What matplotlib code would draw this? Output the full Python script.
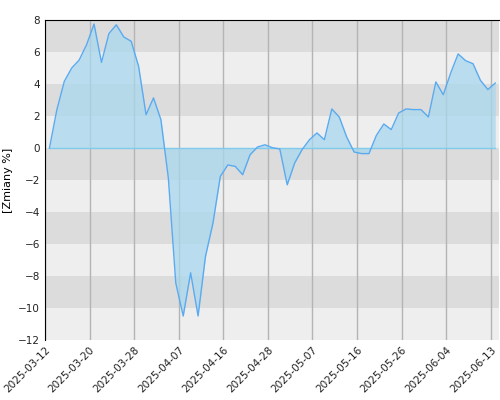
import matplotlib
matplotlib.use('Agg')
import matplotlib.pyplot as plt
import numpy as np

values = [0, 2.4, 4.17, 5.0, 5.5, 6.46, 7.75, 5.35, 7.15, 7.7, 6.94, 6.67, 5.1, 2.08,
          3.13, 1.77, -1.875, -8.44, -10.5, -7.8, -10.5, -6.77, -4.7, -1.77, -1.06,
          -1.15, -1.67, -0.42, 0.06, 0.2, 0.02,
          -0.06, -2.3, -0.94, -0.1, 0.52, 0.94, 0.52, 2.44, 1.94, 0.69, -0.25, -0.35,
          -0.35, 0.79, 1.5, 1.15, 2.19, 2.44, 2.4, 2.4, 1.94, 4.13, 3.33, 4.69, 5.88,
          5.46, 5.27, 4.23, 3.65, 4.06]
tick_labels = ['2025-03-12', '2025-03-20', '2025-03-28', '2025-04-07', '2025-04-16',
               '2025-04-28', '2025-05-07', '2025-05-16', '2025-05-26', '2025-06-04',
               '2025-06-13']

x = np.arange(len(values))
y = np.array(values)

fig = plt.figure(figsize=(5, 4), dpi=100)
ax = fig.add_axes([0.09, 0.15, 0.908, 0.80])

# alternating bands
for i, lo in enumerate(range(-12, 8, 2)):
    c = '#dcdcdc' if (lo // 2) % 2 == 1 else '#eeeeee'
    ax.axhspan(lo, lo + 2, color=c, zorder=0, lw=0)

ticks = np.arange(len(tick_labels)) * 6 - 0.6
for t in ticks:
    ax.axvline(t, color='#b4b4b4', lw=1, zorder=1)

ax.fill_between(x, y, 0, color='#a8d8ee', alpha=0.75, zorder=2, lw=0)
ax.axhline(0, xmin=(0 + 0.58) / 61.1, xmax=(60 + 0.58) / 61.1, color='#80cbea', lw=1, zorder=2)
ax.plot(x, y, color='#5aaaf0', lw=1, zorder=3)

ax.set_xlim(-0.58, 60.5)
ax.set_ylim(-12, 8)
ax.set_yticks(range(-12, 9, 2))
ax.set_xticks(ticks)
ax.set_xticklabels(tick_labels, rotation=45, ha='right', rotation_mode='anchor')
ax.tick_params(labelsize=7.5, length=0, colors='#222222')
ax.set_ylabel('[Zmiany %]', fontsize=8)
for s in ['right', 'bottom']:
    ax.spines[s].set_visible(False)

fig.savefig('out.png', dpi=100)
